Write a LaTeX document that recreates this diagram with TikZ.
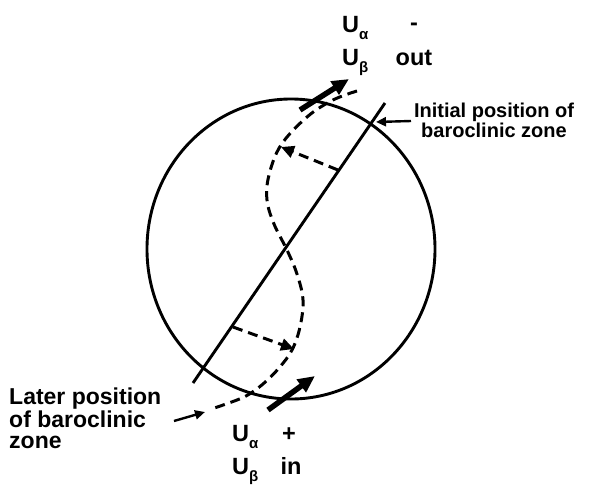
\documentclass[tikz,border=0pt]{standalone}
\usepackage{fontspec}
\setmainfont{Liberation Sans}
\usetikzlibrary{arrows.meta}
\newcommand{\lowsub}[1]{\raisebox{-7.5pt}{\fontsize{15}{15}\selectfont #1}}

\begin{document}
\begin{tikzpicture}[x=1pt,y=-1pt,line join=round,
  zoneline/.style={line width=2.9pt},
  shiftarrow/.style={line width=3pt,dash pattern=on 10pt off 6pt,-{Triangle[length=13pt,width=12pt]}},
  flowarrow/.style={line width=5.5pt,-{Triangle[length=17pt,width=15pt]}},
  leadarrow/.style={line width=2.4pt,-{Triangle[length=10pt,width=9pt]}},
  ulbl/.style={font=\bfseries\fontsize{23.5}{23.5}\selectfont,inner sep=0pt},
  zlbl/.style={font=\bfseries\fontsize{20}{15.5}\selectfont,inner sep=0pt}]
 \useasboundingbox (0,0) rectangle (614,485);
 % basin
 \draw[zoneline] (291,249) ellipse (144pt and 150pt);
 % initial zone
 \coordinate (zi-top) at (385,103);
 \coordinate (zi-bot) at (193,383);
 \draw[zoneline] (zi-top) -- (zi-bot);
 % later zone
 \draw[line width=3pt,dash pattern=on 10pt off 6pt] plot[smooth,tension=0.6] coordinates
   {(357,91) (333,100) (307,117) (281,145) (269,175) (267,200) (274,224) (287,250)
    (297,274) (303,300) (300,327) (292,350) (279,368) (263,384) (246,396) (226,404) (211,409)};
 % displacement arrows
 \coordinate (su-from) at (338,170);
 \coordinate (su-to) at (281,147);
 \coordinate (sl-from) at (233,327);
 \coordinate (sl-to) at (294,349);
 \draw[shiftarrow] (su-from) -- (su-to);
 \draw[shiftarrow] (sl-from) -- (sl-to);
 % flow in and out
 \coordinate (out-from) at (300,110);
 \coordinate (out-to) at (349,79);
 \coordinate (in-from) at (268,410);
 \coordinate (in-to) at (315,376);
 \draw[flowarrow] (out-from) -- (out-to);
 \draw[flowarrow] (in-from) -- (in-to);
 % labels
 \node[ulbl,anchor=base west] (ua-top) at (342,32) {U\lowsub{α}};
 \node[ulbl,anchor=base] (minus) at (414,30) {-};
 \node[ulbl,anchor=base west] (ub-top) at (342,65) {U\lowsub{β}};
 \node[ulbl,anchor=base] (out) at (414,65) {out};
 \node[ulbl,anchor=base west] (ua-bot) at (232,441) {U\lowsub{α}};
 \node[ulbl,anchor=base] (plus) at (289,441) {+};
 \node[ulbl,anchor=base west] (ub-bot) at (232,474) {U\lowsub{β}};
 \node[ulbl,anchor=base] (in) at (291,474) {in};
 \node[zlbl,align=center,anchor=north] (initial) at (494,103) {Initial position of\\baroclinic zone};
 \node[zlbl,align=left,anchor=north west,font=\bfseries\fontsize{23}{21}\selectfont] (later) at (9,388)
   {Later position\\of baroclinic\\zone};
 \coordinate (ini-tip) at (376,122);
 \coordinate (ini-end) at (411,121);
 \coordinate (lat-tip) at (205,412);
 \coordinate (lat-end) at (174,421);
 \draw[leadarrow] (ini-end) -- (ini-tip);
 \draw[leadarrow] (lat-end) -- (lat-tip);
\end{tikzpicture}
\end{document}
